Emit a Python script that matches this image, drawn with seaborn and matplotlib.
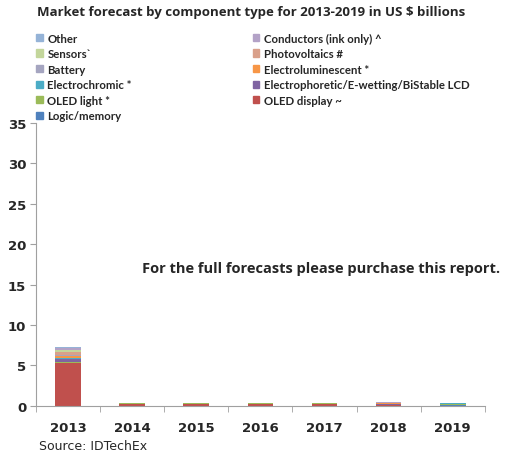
import numpy as np
import pandas as pd
import matplotlib
matplotlib.use("Agg")
import matplotlib.pyplot as plt
import seaborn as sns

# years and components (bottom of stack first)
years = ["2013", "2014", "2015", "2016", "2017", "2018", "2019"]
components = ["Logic/memory", "OLED display ~", "OLED light *",
              "Electrophoretic/E-wetting/BiStable LCD", "Electrochromic *",
              "Electroluminescent *", "Battery", "Photovoltaics #",
              "Sensors`", "Conductors (ink only) ^", "Other"]

logic_memory = [0.05, 0.02, 0.02, 0.02, 0.02, 0.03, 0.12]
oled_display = [5.20, 0.28, 0.27, 0.27, 0.26, 0.05, 0.03]
oled_light = [0.20, 0.02, 0.02, 0.02, 0.03, 0.04, 0.12]
electrophoretic = [0.40, 0.02, 0.02, 0.02, 0.02, 0.15, 0.02]
electrochromic = [0.05, 0.01, 0.01, 0.01, 0.01, 0.02, 0.06]
electroluminescent = [0.30, 0.01, 0.01, 0.01, 0.01, 0.08, 0.01]
battery = [0.10, 0.01, 0.01, 0.01, 0.01, 0.01, 0.01]
photovoltaics = [0.40, 0.01, 0.01, 0.01, 0.01, 0.02, 0.01]
sensors = [0.20, 0.01, 0.01, 0.01, 0.01, 0.01, 0.01]
conductors = [0.25, 0.01, 0.01, 0.01, 0.01, 0.02, 0.01]
other = [0.15, 0.01, 0.01, 0.01, 0.01, 0.01, 0.01]

colors = ["#4F81BD", "#C0504D", "#9BBB59", "#8064A2", "#4BACC6", "#F79646",
          "#A5A5C0", "#D9A08A", "#C3D69B", "#B3A2C7", "#95B3D7"]

series = [logic_memory, oled_display, oled_light, electrophoretic,
          electrochromic, electroluminescent, battery, photovoltaics,
          sensors, conductors, other]

df = pd.DataFrame({"Year": years})
for name, vals in zip(components, series):
    df[name] = vals

sns.set_style("white")
plt.rcParams["font.family"] = ["DejaVu Sans"]
txt_font = ["Open Sans", "DejaVu Sans"]
leg_font = ["Lato", "DejaVu Sans"]

fig = plt.figure(figsize=(5.05, 4.64), dpi=100)
ax = fig.add_axes([0.071, 0.123, 0.889, 0.610])

bottom = np.zeros(len(years))
handles = {}
for name, col in zip(components, colors):
    sns.barplot(data=df, x="Year", y=name, color=col, bottom=bottom,
                width=0.4, ax=ax, saturation=1, linewidth=0)
    bottom = bottom + df[name].values
    handles[name] = plt.Rectangle((0, 0), 1, 1, color=col)

ax.set_ylim(0, 35)
ax.set_xlim(-0.5, 6.5)
ax.set_yticks([0, 5, 10, 15, 20, 25, 30, 35])
ax.set_xlabel("")
ax.set_ylabel("")
for s in ["top", "right"]:
    ax.spines[s].set_visible(False)
for s in ["left", "bottom"]:
    ax.spines[s].set_color("#A0A0A0")
    ax.spines[s].set_linewidth(0.8)
ax.tick_params(axis="y", left=True, length=4, color="#A0A0A0", labelsize=9.5, pad=3)
ax.tick_params(axis="x", bottom=False, labelsize=9.5, pad=7)
for lab in ax.get_xticklabels() + ax.get_yticklabels():
    lab.set_fontweight("bold")
# minor ticks between categories
ax.set_xticks(np.arange(-0.5, 7.0, 1.0), minor=True)
ax.tick_params(axis="x", which="minor", bottom=True, length=4, color="#A0A0A0")

# legend in reference order (two columns)
left_col = ["Other", "Sensors`", "Battery", "Electrochromic *", "OLED light *", "Logic/memory"]
right_col = ["Conductors (ink only) ^", "Photovoltaics #", "Electroluminescent *",
             "Electrophoretic/E-wetting/BiStable LCD", "OLED display ~"]
leg_kw = dict(loc="upper left", frameon=False, handlelength=0.6, handleheight=0.6,
              handletextpad=0.4, labelspacing=0.4, borderpad=0,
              prop={"family": leg_font, "weight": "bold", "size": 8.2})
fig.legend([handles[n] for n in left_col], left_col,
           bbox_to_anchor=(0.06, 0.94), **leg_kw)
fig.legend([handles[n] for n in right_col], right_col,
           bbox_to_anchor=(0.489, 0.94), **leg_kw)

fig.text(0.073, 0.972, "Market forecast by component type for 2013-2019 in US $ billions",
         fontsize=9.5, fontweight="bold", va="center", ha="left", family=txt_font)
fig.text(0.635, 0.42, "For the full forecasts please purchase this report.",
         fontsize=10.5, fontweight="bold", ha="center", va="center", family=txt_font)
fig.text(0.078, 0.038, "Source: IDTechEx", fontsize=9, ha="left", va="center")

fig.savefig("out.png", dpi=100)
